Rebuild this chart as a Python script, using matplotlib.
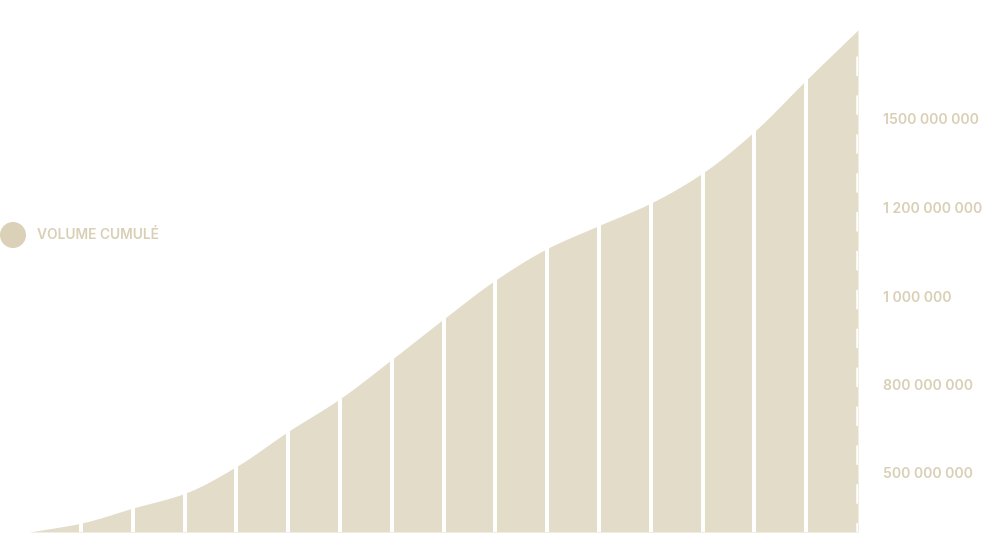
import numpy as np
import matplotlib
matplotlib.use("Agg")
import matplotlib.pyplot as plt
from matplotlib.patches import Circle

# ---- data ----
periods = list(range(17))
volume_cumule = [0, 30, 81, 131, 222, 341, 452, 585, 722, 854, 961, 1039, 1115, 1217, 1358, 1532, 1702]
tick_values = [200, 500, 800, 1100, 1400]
tick_labels = ["500 000 000", "800 000 000", "1 000 000", "1 200 000 000", "1500 000 000"]
legend_label = "VOLUME CUMULÉ"

FILL = "#E2DCC9"
TEXT = "#D8CFB4"
DOT = "#DAD1B8"


def monotone(x, y, n=30):
    x = np.asarray(x, float); y = np.asarray(y, float)
    h = np.diff(x); d = np.diff(y) / h
    m = np.zeros_like(y)
    m[0] = d[0]; m[-1] = d[-1]
    for i in range(1, len(y) - 1):
        if d[i - 1] * d[i] <= 0:
            m[i] = 0
        else:
            m[i] = 2 / (1 / d[i - 1] + 1 / d[i])
    xs, ys = [], []
    for i in range(len(x) - 1):
        t = np.linspace(0, 1, n, endpoint=False)
        h00 = 2 * t**3 - 3 * t**2 + 1
        h10 = t**3 - 2 * t**2 + t
        h01 = -2 * t**3 + 3 * t**2
        h11 = t**3 - t**2
        xs.append(x[i] + t * h[i])
        ys.append(h00 * y[i] + h10 * h[i] * m[i] + h01 * y[i + 1] + h11 * h[i] * m[i + 1])
    xs.append([x[-1]]); ys.append([y[-1]])
    return np.concatenate(xs), np.concatenate(ys)


W, H = 982, 558
fig = plt.figure(figsize=(W / 100, H / 100), dpi=100)
x0, x1 = 29.2, 858.0
ybot = 532.0
ax = fig.add_axes([x0 / W, (H - ybot) / H, (x1 - x0) / W, ybot / H])
ymax = ybot * 300 / 88.5

xs, ys = monotone(periods, volume_cumule)
ax.fill_between(xs, 0, ys, color=FILL, lw=0)
for p in periods[1:-1]:
    ax.axvline(p, color="white", lw=2.9)

matplotlib.rcParams['lines.scale_dashes'] = False
ax.plot([periods[-1] - 0.022] * 2, [(ybot - 56) * 300 / 88.5, 0], color="white", lw=1.8,
        dashes=(14.0, 14.0), solid_capstyle="butt")

ax.set_xlim(0, periods[-1])
ax.set_ylim(0, ymax)
for s in ax.spines.values():
    s.set_visible(False)
ax.set_xticks([])
ax.yaxis.tick_right()
ax.set_yticks(tick_values)
ax.set_yticklabels(tick_labels)
ax.tick_params(axis="y", length=0, pad=18, labelcolor=TEXT, labelsize=10.1)
for lab in ax.get_yticklabels():
    lab.set_fontfamily("Inter")
    lab.set_fontweight("semibold")

ov = fig.add_axes([0, 0, 1, 1])
ov.set_xlim(0, W); ov.set_ylim(H, 0); ov.axis("off")
ov.add_patch(Circle((13, 235), 13, color=DOT, lw=0))
ov.text(37, 235, legend_label, color=TEXT, fontsize=9.9, fontfamily="Inter", fontweight="semibold",
        va="center", ha="left")

fig.savefig("out.png", dpi=100)
